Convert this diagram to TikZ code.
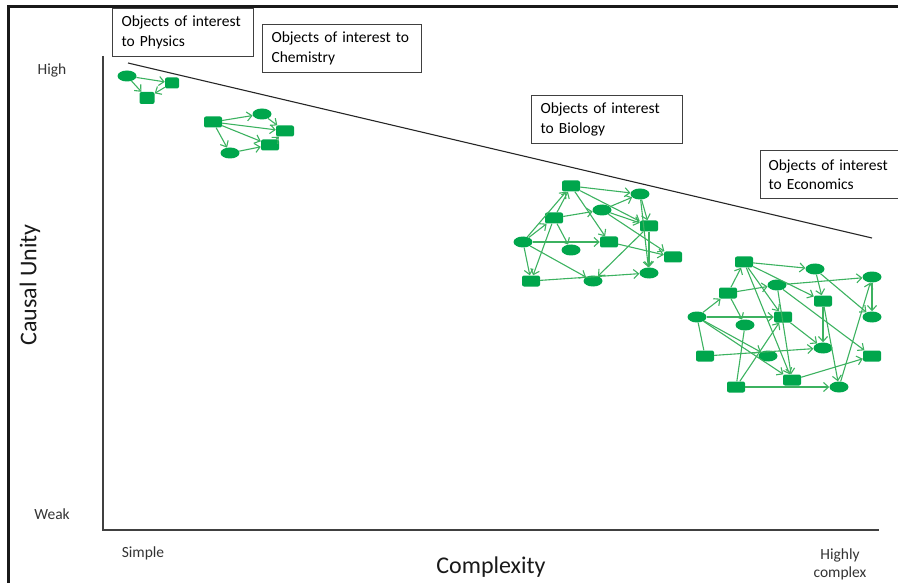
\documentclass[tikz,border=0pt]{standalone}
\usepackage{fontspec}
\setmainfont{Carlito}
\usetikzlibrary{arrows.meta,shapes.geometric}
\definecolor{nodegreen}{RGB}{0,166,76}
\definecolor{edgegreen}{RGB}{60,178,96}
\hyphenpenalty=10000

\begin{document}
\begin{tikzpicture}[x=1pt,y=-1pt,
  ov/.style={ellipse, fill=nodegreen, minimum width=19pt, minimum height=11pt, inner sep=0pt},
  rr/.style={rectangle, rounded corners=2pt, fill=nodegreen, minimum width=18pt, minimum height=11pt, inner sep=0pt},
  link/.style={draw=edgegreen, line width=1.1pt, -{Straight Barb[length=5pt,width=9pt]}},
  labelbox/.style={draw=black!75, line width=1.1pt, anchor=north west, inner xsep=9pt,
    inner ysep=0pt, align=left, font=\fontsize{15.5}{19.5}\selectfont},
  axislabel/.style={font=\fontsize{15.5}{18}\selectfont, text=black!80},
  biglabel/.style={font=\fontsize{24}{28}\selectfont, text=black!90}
]
\useasboundingbox (0,0) rectangle (898,583);

% frame edges
\coordinate (fTL) at (8,7);
\coordinate (fTR) at (898,7);
\coordinate (fBL) at (8,583);
\draw[line width=3pt, black!90] (fTR) -- (fTL) -- (fBL);

% axes
\coordinate (yTop) at (103,56);
\coordinate (org) at (103,530);
\coordinate (xEnd) at (879,530);
\draw[line width=1.1pt, black!75] (yTop) -- (org) -- (xEnd);

% unity / complexity trend line
\coordinate (tA) at (128,63);
\coordinate (tB) at (872,238);
\draw[line width=1.1pt, black!85] (tA) -- (tB);

% axis labels
\node[axislabel] (high) at (52,70) {High};
\node[axislabel] (weak) at (52,514) {Weak};
\node[axislabel] (simple) at (143,553) {Simple};
\node[axislabel, align=center, font=\fontsize{15.5}{18}\selectfont] (hcx) at (840,564) {Highly\\complex};
\node[biglabel] (cx) at (491,567) {Complexity};
\node[biglabel, rotate=90] (cu) at (30,285) {Causal Unity};

% discipline boxes
\node[labelbox, minimum height=48pt, text width=123pt] (phys) at (112,8) {Objects of interest\\to Physics};
\node[labelbox, minimum height=48pt, text width=141pt] (chem) at (262,24) {Objects of interest to\\Chemistry};
\node[labelbox, minimum height=48pt, text width=133pt] (bio) at (531,95) {Objects of interest\\to Biology};
\node[labelbox, minimum height=48pt, inner xsep=8pt, text width=122pt] (econ) at (760,150) {Objects of interest\\to Economics};

% physics network
\node[ov] (P1) at (127,76) {};
\node[rr, minimum width=14pt] (P2) at (172,83) {};
\node[rr, minimum width=15pt, minimum height=12pt] (P3) at (147,98) {};
\foreach \a/\b in {P1/P2,P1/P3,P2/P3} \draw[link] (\a) -- (\b);

% chemistry network
\node[rr] (C1) at (213,122) {};
\node[ov] (C2) at (262,114) {};
\node[rr] (C3) at (285,131) {};
\node[rr] (C4) at (270,145) {};
\node[ov] (C5) at (230,153) {};
\foreach \a/\b in {C1/C2,C1/C3,C1/C4,C1/C5,C2/C3,C5/C4,C4/C3} \draw[link] (\a) -- (\b);

% biology network
\node[rr] (B1) at (571,186) {};
\node[ov] (B2) at (640,194) {};
\node[ov] (B3) at (602,210) {};
\node[rr] (B4) at (554,218) {};
\node[rr] (B5) at (649,226) {};
\node[ov] (B6) at (523,242) {};
\node[ov] (B7) at (571,250) {};
\node[rr] (B8) at (609,242) {};
\node[rr] (B9) at (673,257) {};
\node[rr] (B10) at (531,281) {};
\node[ov] (B11) at (593,281) {};
\node[ov] (B12) at (649,273) {};
\foreach \a/\b in {B1/B2,B4/B1,B6/B1,B6/B4,B4/B3,B3/B2,B1/B8,B1/B5,B3/B5,B3/B9,
  B2/B5,B2/B12,B5/B11,B4/B7,B6/B8,B6/B10,B4/B10,B6/B11,B10/B12,B8/B9,B5/B12}
  \draw[link] (\a) -- (\b);

% economics network
\node[rr] (E1) at (744,262) {};
\node[ov] (E2) at (815,269) {};
\node[ov] (E3) at (872,277) {};
\node[ov] (E4) at (777,285) {};
\node[rr] (E5) at (728,293) {};
\node[rr] (E6) at (823,301) {};
\node[ov] (E7) at (697,317) {};
\node[rr] (E8) at (783,317) {};
\node[ov] (E9) at (745,325) {};
\node[ov] (E10) at (872,317) {};
\node[ov] (E11) at (823,348) {};
\node[rr] (E12) at (705,356) {};
\node[ov] (E13) at (768,356) {};
\node[rr] (E14) at (872,356) {};
\node[rr] (E15) at (792,380) {};
\node[rr] (E16) at (736,387) {};
\node[ov] (E17) at (839,387) {};
\foreach \a/\b in {E1/E2,E5/E1,E7/E5,E5/E4,E4/E3,E3/E10,E2/E6,E2/E10,E1/E8,E1/E15,
  E1/E6,E7/E8,E5/E9,E7/E15,E7/E13,E4/E14,E8/E11,E6/E11,E6/E17,E12/E11,E16/E8,
  E16/E17,E15/E14,E17/E3,E4/E15}
  \draw[link] (\a) -- (\b);
\draw[draw=edgegreen, line width=1.1pt] (E7) -- (E12);
\draw[draw=edgegreen, line width=1.1pt] (E9) -- (E16);
\end{tikzpicture}
\end{document}
